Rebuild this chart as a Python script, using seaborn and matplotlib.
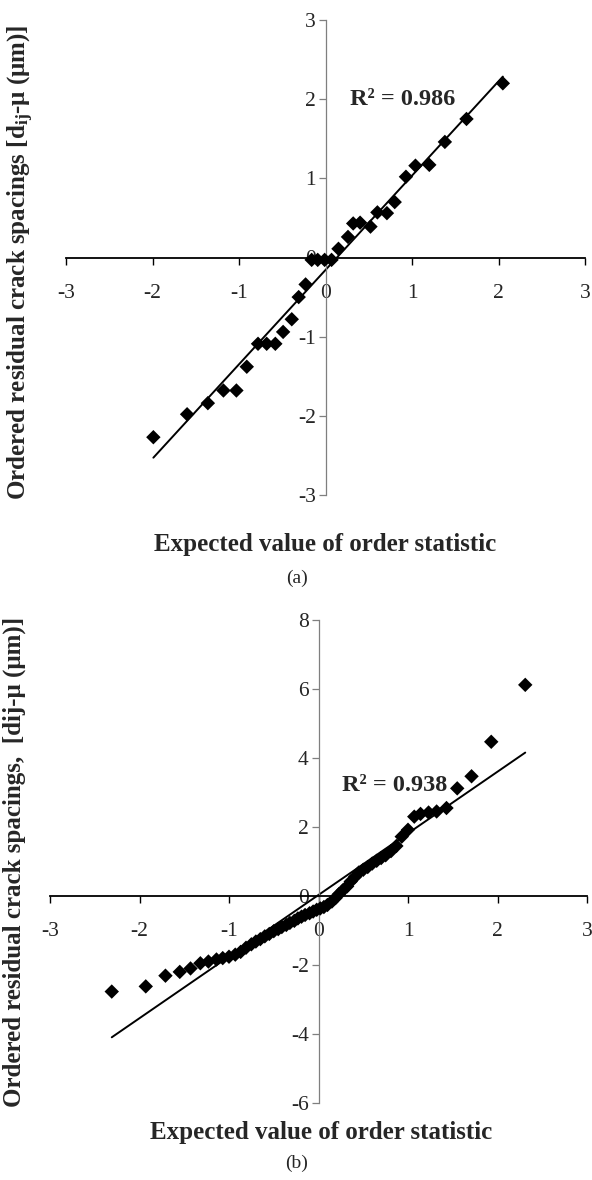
import numpy as np
import pandas as pd
import matplotlib
matplotlib.use("Agg")
import matplotlib.pyplot as plt
import seaborn as sns

# ---- data: panel (a) ----
xa = [-1.99, -1.60, -1.36, -1.18, -1.03, -0.91, -0.78, -0.68, -0.58, -0.49,
      -0.39, -0.31, -0.23, -0.16, -0.09, -0.01, 0.07, 0.15, 0.26, 0.32,
      0.40, 0.52, 0.60, 0.71, 0.80, 0.93, 1.04, 1.20, 1.38, 1.63, 2.05]
ya = [-2.27, -1.98, -1.84, -1.68, -1.68, -1.38, -1.09, -1.09, -1.09, -0.94,
      -0.78, -0.50, -0.34, -0.03, -0.03, -0.03, -0.03, 0.11, 0.26, 0.43,
      0.44, 0.39, 0.57, 0.56, 0.70, 1.02, 1.16, 1.17, 1.46, 1.75, 2.20]

# ---- data: panel (b) ----
xb = [-2.31, -1.93, -1.71, -1.55, -1.43, -1.32, -1.23, -1.14, -1.07, -1.00,
      -0.93, -0.87, -0.81, -0.75, -0.70, -0.65, -0.60, -0.55, -0.50, -0.45,
      -0.41, -0.36, -0.32, -0.27, -0.23, -0.19, -0.15, -0.10, -0.06, -0.02,
      0.02, 0.06, 0.10, 0.15, 0.19, 0.23, 0.27, 0.32, 0.36, 0.41,
      0.45, 0.50, 0.55, 0.60, 0.65, 0.70, 0.75, 0.81, 0.87, 0.93,
      1.00, 1.07, 1.14, 1.23, 1.32, 1.43, 1.55, 1.71, 1.93, 2.31]
yb = [-2.77, -2.62, -2.31, -2.20, -2.10, -1.95, -1.90, -1.84, -1.80, -1.76,
      -1.70, -1.62, -1.50, -1.40, -1.32, -1.25, -1.17, -1.10, -1.02, -0.96,
      -0.90, -0.84, -0.78, -0.72, -0.65, -0.60, -0.55, -0.50, -0.45, -0.40,
      -0.36, -0.32, -0.26, -0.16, -0.06, 0.06, 0.16, 0.28, 0.42, 0.56,
      0.68, 0.76, 0.84, 0.94, 1.02, 1.10, 1.18, 1.30, 1.45, 1.72,
      1.92, 2.30, 2.38, 2.42, 2.45, 2.55, 3.12, 3.47, 4.47, 6.12]

x_ticks = [-3, -2, -1, 0, 1, 2, 3]
ya_ticks = [-3, -2, -1, 0, 1, 2, 3]
yb_ticks = [-6, -4, -2, 0, 2, 4, 6, 8]

xlabel = "Expected value of order statistic"
ylabel_a = r"Ordered residual crack spacings [$\mathbf{d_{ij}}$-μ (μm)]"
ylabel_b = "Ordered residual crack spacings,  [dij-μ (μm)]"
r2_a = "R² = 0.986"
r2_b = "R² = 0.938"

sns.set_style("white")
plt.rcParams["font.family"] = ["Liberation Serif", "DejaVu Serif"]
plt.rcParams["mathtext.fontset"] = "custom"
plt.rcParams["mathtext.rm"] = "Liberation Serif"
plt.rcParams["mathtext.bf"] = "Liberation Serif:bold"
plt.rcParams["mathtext.it"] = "Liberation Serif:italic"

W, H = 592, 1180
fig = plt.figure(figsize=(W / 100, H / 100), dpi=100)


def px_axes(l, r, t, b):
    return fig.add_axes([l / W, 1 - b / H, (r - l) / W, (b - t) / H])


def style(ax, yt, ylim):
    ax.set_xlim(-3, 3)
    ax.set_ylim(*ylim)
    ax.set_xticks(x_ticks)
    ax.set_yticks(yt)
    ax.set_xticklabels([str(v) for v in x_ticks])
    ax.set_yticklabels([str(v) for v in yt])
    ax.spines["top"].set_visible(False)
    ax.spines["right"].set_visible(False)
    ax.spines["left"].set_position(("data", 0))
    ax.spines["bottom"].set_position(("data", 0))
    ax.spines["left"].set_color("#7f7f7f")
    ax.spines["left"].set_linewidth(0.9)
    ax.spines["bottom"].set_color("black")
    ax.spines["bottom"].set_linewidth(1.3)
    ax.tick_params(axis="x", direction="out", length=5, width=1.0,
                   color="black", labelsize=15.5, pad=14, bottom=True)
    ax.tick_params(axis="y", direction="out", length=5, width=0.9,
                   color="#7f7f7f", labelsize=15.5, pad=2, left=True)
    ax.grid(False)


def draw(ax, x, y):
    df = pd.DataFrame({"x": x, "y": y})
    sns.regplot(data=df, x="x", y="y", ax=ax, ci=None, marker="D",
                color="black",
                scatter_kws={"s": 54, "edgecolor": "none", "alpha": 1,
                             "zorder": 3},
                line_kws={"lw": 1.4, "color": "black", "zorder": 2})
    ax.set_xlabel("")
    ax.set_ylabel("")


# panel (a)
ax1 = px_axes(66, 585, 20, 495)
draw(ax1, xa, ya)
style(ax1, ya_ticks, (-3, 3))
ax1.text(0.89, 2.0, r2_a, ha="center", va="center", fontsize=17.5,
         fontweight="bold")
ax1.set_xlabel(xlabel, fontsize=18, fontweight="bold", va="center")
ax1.xaxis.set_label_coords(0.5, -0.105)
ax1.set_ylabel(ylabel_a, fontsize=18, fontweight="bold", va="center")
ax1.yaxis.set_label_coords(-0.086, 0.49)
fig.text(297 / W, 1 - 578 / H, "(a)", ha="center", va="center", fontsize=14)

# panel (b)
ax2 = px_axes(50, 587, 620, 1103)
draw(ax2, xb, yb)
style(ax2, yb_ticks, (-6, 8))
ax2.text(0.85, 3.2, r2_b, ha="center", va="center", fontsize=17.5,
         fontweight="bold")
ax2.set_xlabel(xlabel, fontsize=18, fontweight="bold", va="center")
ax2.xaxis.set_label_coords(0.505, -0.062)
ax2.set_ylabel(ylabel_b, fontsize=18, fontweight="bold", va="center")
ax2.yaxis.set_label_coords(-0.066, 0.5)
fig.text(297 / W, 1 - 1163 / H, "(b)", ha="center", va="center", fontsize=14)

fig.savefig("out.png", dpi=100)
